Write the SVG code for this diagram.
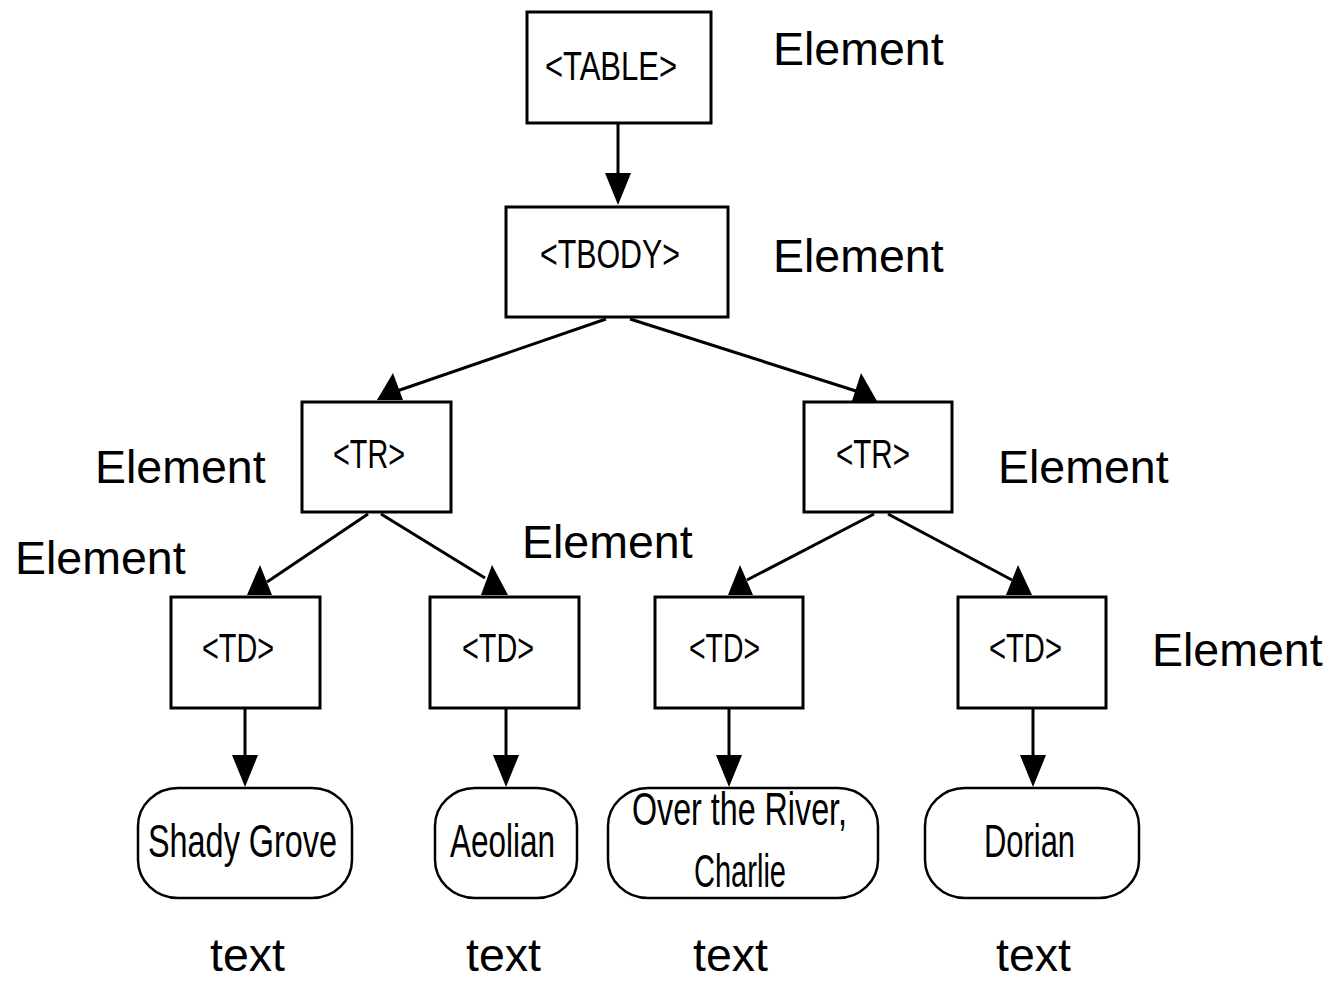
<svg xmlns="http://www.w3.org/2000/svg" width="1330" height="981" viewBox="0 0 1330 981">
<style>
.box{fill:#fff;stroke:#000;stroke-width:3}
.oval{fill:#fff;stroke:#000;stroke-width:2.5}
.ntext{font-family:"Liberation Sans",Arial,sans-serif;font-size:40px;fill:#000}
.otext{font-family:"Liberation Sans",Arial,sans-serif;font-size:46px;fill:#000}
.lbl{font-family:"Liberation Sans",Arial,sans-serif;font-size:46.5px;fill:#000}
.edge{stroke:#000;stroke-width:3;fill:none}
.head{fill:#000;stroke:none}
</style>
<rect width="1330" height="981" fill="#fff"/>
<g id="connectors">
  <line class="edge" x1="618" y1="124" x2="618" y2="200"/>
  <polygon class="head" points="605,173 631,173 618,205"/>
  <line class="edge" x1="606" y1="319" x2="397" y2="391"/>
  <polygon class="head" points="393,373 377,400 403,400"/>
  <line class="edge" x1="630" y1="319" x2="856" y2="391"/>
  <polygon class="head" points="861,373 852,401 877,401"/>
  <rect class="head" x="854" y="399" width="13" height="12"/>
  <line class="edge" x1="368" y1="514" x2="267" y2="582"/>
  <polygon class="head" points="260,565 247,595 272,595"/>
  <line class="edge" x1="381" y1="514" x2="485" y2="578"/>
  <polygon class="head" points="492,565 481,595 508,595"/>
  <line class="edge" x1="874" y1="514" x2="747" y2="580"/>
  <polygon class="head" points="740,565 728,595 753,595"/>
  <line class="edge" x1="888" y1="514" x2="1012" y2="580"/>
  <polygon class="head" points="1018,565 1006,595 1032,595"/>
  <line class="edge" x1="245" y1="708" x2="245" y2="760"/>
  <polygon class="head" points="232,755 258,755 245,787"/>
  <line class="edge" x1="506" y1="708" x2="506" y2="760"/>
  <polygon class="head" points="493,755 519,755 506,787"/>
  <line class="edge" x1="729" y1="708" x2="729" y2="760"/>
  <polygon class="head" points="716,755 742,755 729,787"/>
  <line class="edge" x1="1033" y1="708" x2="1033" y2="760"/>
  <polygon class="head" points="1020,755 1046,755 1033,787"/>
</g>
<g id="table">
  <rect class="box" x="527" y="12" width="184" height="111"/>
  <text class="ntext" x="545" y="80" textLength="132" lengthAdjust="spacingAndGlyphs">&lt;TABLE&gt;</text>
</g>
<g id="tbody">
  <rect class="box" x="506" y="207" width="222" height="110"/>
  <text class="ntext" x="540" y="268" textLength="140" lengthAdjust="spacingAndGlyphs">&lt;TBODY&gt;</text>
</g>
<g id="tr1">
  <rect class="box" x="302" y="402" width="149" height="110"/>
  <text class="ntext" x="333" y="468" textLength="72" lengthAdjust="spacingAndGlyphs">&lt;TR&gt;</text>
</g>
<g id="tr2">
  <rect class="box" x="804" y="402" width="148" height="110"/>
  <text class="ntext" x="836" y="468" textLength="74" lengthAdjust="spacingAndGlyphs">&lt;TR&gt;</text>
</g>
<g id="td1">
  <rect class="box" x="171" y="597" width="149" height="111"/>
  <text class="ntext" x="202" y="662" textLength="72" lengthAdjust="spacingAndGlyphs">&lt;TD&gt;</text>
</g>
<g id="td2">
  <rect class="box" x="430" y="597" width="149" height="111"/>
  <text class="ntext" x="462" y="662" textLength="72" lengthAdjust="spacingAndGlyphs">&lt;TD&gt;</text>
</g>
<g id="td3">
  <rect class="box" x="655" y="597" width="148" height="111"/>
  <text class="ntext" x="689" y="662" textLength="71" lengthAdjust="spacingAndGlyphs">&lt;TD&gt;</text>
</g>
<g id="td4">
  <rect class="box" x="958" y="597" width="148" height="111"/>
  <text class="ntext" x="989" y="662" textLength="73" lengthAdjust="spacingAndGlyphs">&lt;TD&gt;</text>
</g>
<g id="text1">
  <rect class="oval" x="138" y="788" width="214" height="110" rx="40" ry="38"/>
  <text class="otext" x="148" y="857" textLength="189" lengthAdjust="spacingAndGlyphs">Shady Grove</text>
</g>
<g id="text2">
  <rect class="oval" x="435" y="788" width="142" height="110" rx="40" ry="38"/>
  <text class="otext" x="450" y="857" textLength="105" lengthAdjust="spacingAndGlyphs">Aeolian</text>
</g>
<g id="text3">
  <rect class="oval" x="608" y="788" width="270" height="110" rx="40" ry="38"/>
  <text class="otext" x="632" y="825" textLength="215" lengthAdjust="spacingAndGlyphs">Over the River,</text>
  <text class="otext" x="694" y="887" textLength="92" lengthAdjust="spacingAndGlyphs">Charlie</text>
</g>
<g id="text4">
  <rect class="oval" x="925" y="788" width="214" height="110" rx="40" ry="38"/>
  <text class="otext" x="984" y="857" textLength="91" lengthAdjust="spacingAndGlyphs">Dorian</text>
</g>
<g id="labels">
  <text class="lbl" x="773" y="65">Element</text>
  <text class="lbl" x="773" y="272">Element</text>
  <text class="lbl" x="95" y="483">Element</text>
  <text class="lbl" x="998" y="483">Element</text>
  <text class="lbl" x="15" y="574">Element</text>
  <text class="lbl" x="522" y="558">Element</text>
  <text class="lbl" x="1152" y="666">Element</text>
  <text class="lbl" x="210" y="971">text</text>
  <text class="lbl" x="466" y="971">text</text>
  <text class="lbl" x="693" y="971">text</text>
  <text class="lbl" x="996" y="971">text</text>
</g>
</svg>
